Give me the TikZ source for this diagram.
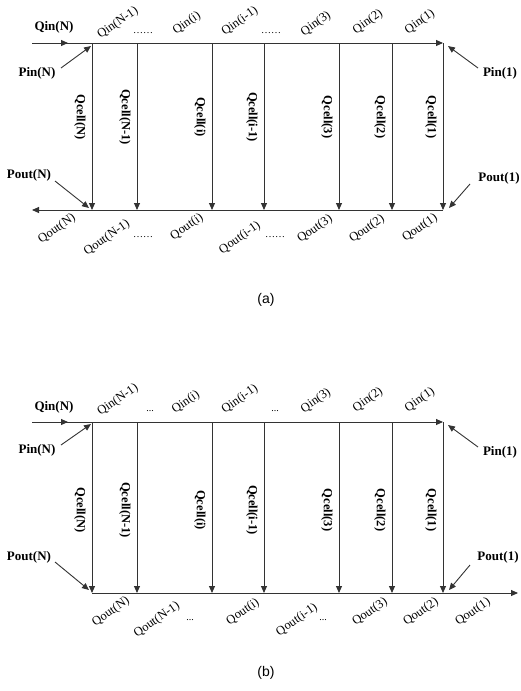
\documentclass[tikz,border=0pt]{standalone}
\usepackage{fontspec}
\setmainfont{Liberation Serif}
\newfontfamily\capfont{Liberation Sans}
\usetikzlibrary{arrows.meta}
\begin{document}
\begin{tikzpicture}[x=1pt,y=1pt,
  wire/.style={line width=0.9pt, draw=black!80},
  tip/.style={-{Triangle[length=7pt,width=6pt]}},
  lbl/.style={font=\fontsize{13}{13}\selectfont\bfseries, inner sep=0pt},
  rlbl/.style={font=\fontsize{12.5}{13}\selectfont, inner sep=0pt, rotate=35},
  clbl/.style={font=\fontsize{12.5}{13}\selectfont\bfseries, inner sep=0pt, rotate=-90},
  dotlbl/.style={font=\fontsize{10}{10}\selectfont, inner sep=0pt},
  caplbl/.style={font=\capfont\fontsize{14}{14}\selectfont, inner sep=0pt}]
\useasboundingbox (0,-691) rectangle (521,0);

% ---------------- (a) ----------------
\foreach \x/\n [count=\k] in {92/N,137/N-1,212/i,264/i-1,339/3,392/2,443/1} {
  \coordinate (at\k) at (\x,-43);
  \coordinate (ab\k) at (\x,-210);
  \draw[wire,tip] (at\k) -- (ab\k);
  \node[clbl] (acell\k) at (\x-12,-117) {Qcell(\n)};
}
\draw[wire,tip] (at1) -- (at7);
\coordinate (aleft) at (32,-210);
\draw[wire,tip] (ab7) -- (aleft);
\coordinate (ains) at (32,-43);
\coordinate (ainm) at (68,-43);
\draw[wire] (ains) -- (at1);
\draw[wire,tip] (ains) -- (ainm);
\node[lbl] (aqinN) at (54,-27) {Qin(N)};
\node[lbl] (apinN) at (37,-73) {Pin(N)};
\node[lbl] (apin1) at (500,-73) {Pin(1)};
\node[lbl] (apoutN) at (29,-175) {Pout(N)};
\node[lbl] (apout1) at (499,-178) {Pout(1)};
\coordinate (apinNs) at (61,-68);
\coordinate (apinNe) at (91,-46);
\coordinate (apin1s) at (478,-68);
\coordinate (apin1e) at (448,-46);
\coordinate (apoutNs) at (55,-181);
\coordinate (apoutNe) at (89,-208);
\coordinate (apout1s) at (470,-184);
\coordinate (apout1e) at (449,-208);
\draw[wire,tip] (apinNs) -- (apinNe);
\draw[wire,tip] (apin1s) -- (apin1e);
\draw[wire,tip] (apoutNs) -- (apoutNe);
\draw[wire,tip] (apout1s) -- (apout1e);
% Qin labels
\node[rlbl] (aqin2) at (118,-23) {Qin(N-1)};
\node[dotlbl] (adt1) at (143,-33) {……};
\node[rlbl] (aqin3) at (187,-23) {Qin(i)};
\node[rlbl] (aqin4) at (240,-21) {Qin(i-1)};
\node[dotlbl] (adt2) at (271,-33) {……};
\node[rlbl] (aqin5) at (316,-24) {Qin(3)};
\node[rlbl] (aqin6) at (368,-22) {Qin(2)};
\node[rlbl] (aqin7) at (420,-22) {Qin(1)};
% Qout labels
\node[rlbl] (aqo1) at (57,-229) {Qout(N)};
\node[rlbl] (aqo2) at (107,-238) {Qout(N-1)};
\node[dotlbl] (adb1) at (143,-237) {……};
\node[rlbl] (aqo3) at (187,-227) {Qout(i)};
\node[rlbl] (aqo4) at (240,-238) {Qout(i-1)};
\node[dotlbl] (adb2) at (275,-237) {……};
\node[rlbl] (aqo5) at (315,-229) {Qout(3)};
\node[rlbl] (aqo6) at (367,-229) {Qout(2)};
\node[rlbl] (aqo7) at (420,-228) {Qout(1)};
\node[caplbl] (capa) at (266,-300) {(a)};

% ---------------- (b) ----------------
\foreach \x/\n [count=\k] in {92/N,137/N-1,212/i,264/i-1,339/3,392/2,443/1} {
  \coordinate (bt\k) at (\x,-422);
  \coordinate (bb\k) at (\x,-593);
  \draw[wire,tip] (bt\k) -- (bb\k);
  \node[clbl] (bcell\k) at (\x-12,-510) {Qcell(\n)};
}
\draw[wire,tip] (bt1) -- (bt7);
\coordinate (bright) at (518,-593);
\draw[wire,tip] (bb1) -- (bright);
\coordinate (bins) at (32,-422);
\coordinate (binm) at (68,-422);
\draw[wire] (bins) -- (bt1);
\draw[wire,tip] (bins) -- (binm);
\node[lbl] (bqinN) at (54,-407) {Qin(N)};
\node[lbl] (bpinN) at (37,-450) {Pin(N)};
\node[lbl] (bpin1) at (500,-452) {Pin(1)};
\node[lbl] (bpoutN) at (29,-557) {Pout(N)};
\node[lbl] (bpout1) at (498,-557) {Pout(1)};
\coordinate (bpinNs) at (61,-445);
\coordinate (bpinNe) at (91,-424);
\coordinate (bpin1s) at (478,-447);
\coordinate (bpin1e) at (448,-425);
\coordinate (bpoutNs) at (55,-562);
\coordinate (bpoutNe) at (89,-590);
\coordinate (bpout1s) at (470,-565);
\coordinate (bpout1e) at (449,-590);
\draw[wire,tip] (bpinNs) -- (bpinNe);
\draw[wire,tip] (bpin1s) -- (bpin1e);
\draw[wire,tip] (bpoutNs) -- (bpoutNe);
\draw[wire,tip] (bpout1s) -- (bpout1e);
% Qin labels
\node[rlbl] (bqin2) at (118,-400) {Qin(N-1)};
\node[dotlbl] (bdt1) at (150,-411) {...};
\node[rlbl] (bqin3) at (186,-402) {Qin(i)};
\node[rlbl] (bqin4) at (240,-399) {Qin(i-1)};
\node[dotlbl] (bdt2) at (275,-411) {...};
\node[rlbl] (bqin5) at (316,-401) {Qin(3)};
\node[rlbl] (bqin6) at (368,-400) {Qin(2)};
\node[rlbl] (bqin7) at (420,-400) {Qin(1)};
% Qout labels
\node[rlbl] (bqo1) at (111,-612) {Qout(N)};
\node[rlbl] (bqo2) at (157,-620) {Qout(N-1)};
\node[dotlbl] (bdb1) at (190,-620) {...};
\node[rlbl] (bqo3) at (243,-612) {Qout(i)};
\node[rlbl] (bqo4) at (297,-620) {Qout(i-1)};
\node[dotlbl] (bdb2) at (323,-620) {...};
\node[rlbl] (bqo5) at (370,-612) {Qout(3)};
\node[rlbl] (bqo6) at (421,-612) {Qout(2)};
\node[rlbl] (bqo7) at (473,-612) {Qout(1)};
\node[caplbl] (capb) at (266,-673) {(b)};
\end{tikzpicture}
\end{document}
